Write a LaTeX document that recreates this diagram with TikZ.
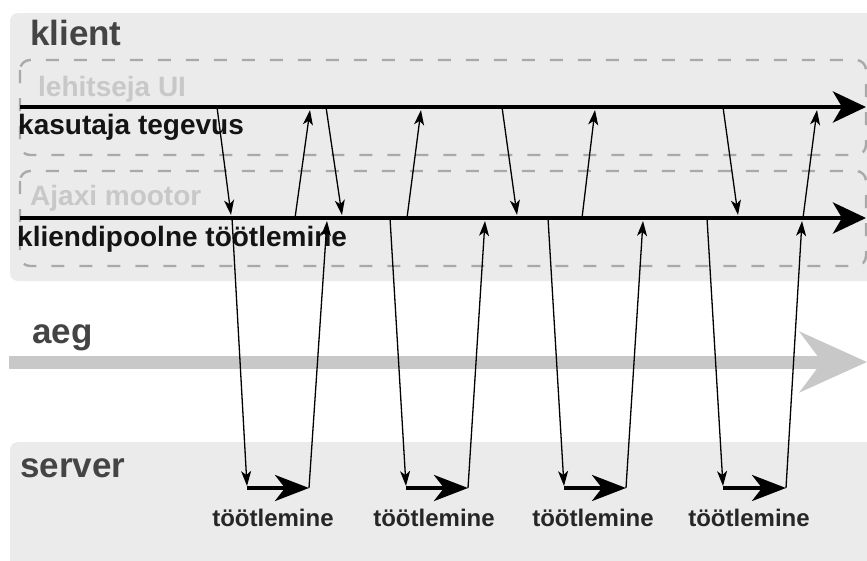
\documentclass[tikz,border=0pt]{standalone}
\usepackage{fontspec}
\setmainfont{Liberation Sans}
\usetikzlibrary{arrows.meta}

\definecolor{panel}{HTML}{EBEBEB}
\definecolor{dashgray}{HTML}{A9A9A9}
\definecolor{faint}{HTML}{C8C8C8}
\definecolor{head}{HTML}{444444}
\definecolor{timegray}{HTML}{C8C8C8}

\tikzset{
  panelbox/.style={fill=panel, draw=none, rounded corners=8pt},
  layerbox/.style={draw=dashgray, line width=2.4pt, dash pattern=on 13pt off 15pt, rounded corners=10pt},
  title/.style={inner sep=0pt, anchor=base west, text=head, font=\bfseries\fontsize{35}{40}\selectfont},
  layername/.style={inner sep=0pt, anchor=base west, text=faint, font=\bfseries\fontsize{28}{32}\selectfont},
  linename/.style={inner sep=0pt, anchor=base west, text=black!92, font=\bfseries\fontsize{28}{32}\selectfont},
  worklabel/.style={inner sep=0pt, anchor=base, text=black!85, font=\bfseries\fontsize{24}{28}\selectfont},
  timeline/.style={line width=4.5pt, -{Stealth[length=33pt, width=31pt, inset=9pt]}},
  workarrow/.style={line width=4pt, -{Stealth[length=34pt, width=26pt, inset=10pt]}},
  msg/.style={line width=1.3pt, -{Stealth[length=15pt, width=10pt, inset=4pt]}},
  timearrow/.style={draw=timegray, line width=13pt, -{Stealth[length=67pt, width=60pt, inset=22pt]}}
}

\begin{document}
\begin{tikzpicture}[x=1pt, y=-1pt]
\useasboundingbox (0,0) rectangle (867,560);
\clip (0,0) rectangle (867,560);

% client and server panels
\fill[panelbox] (10,13) rectangle (890,281);
\fill[panelbox] (10,442) rectangle (890,590);

% dashed layers inside the client
\draw[layerbox] (20,60) rectangle (866,155);
\draw[layerbox] (20,171) rectangle (866,266);

% panel and layer titles
\node[title] (klient) at (30,45) {klient};
\node[layername] (ui) at (38,96) {lehitseja UI};
\node[linename] (user) at (18,134) {kasutaja tegevus};
\node[layername] (ajax) at (30,205) {Ajaxi mootor};
\node[linename] (client) at (17,246) {kliendipoolne töötlemine};
\node[title] (aeg) at (32,343) {aeg};
\node[title] (server) at (20,477) {server};

% time axis
\coordinate (t0) at (9,362);
\coordinate (t1) at (867,362);
\draw[timearrow] (t0) -- (t1);

% client timelines
\coordinate (l1a) at (20,107);
\coordinate (l1b) at (866,107);
\coordinate (l2a) at (20,218);
\coordinate (l2b) at (866,218);
\draw[timeline] (l1a) -- (l1b);
\draw[timeline] (l2a) -- (l2b);

% server processing steps
\node[worklabel] (w1) at (273,526) {töötlemine};
\node[worklabel] (w2) at (434,526) {töötlemine};
\node[worklabel] (w3) at (593,526) {töötlemine};
\node[worklabel] (w4) at (749,526) {töötlemine};

\coordinate (s1a) at (247,488); \coordinate (s1b) at (309,488);
\coordinate (s2a) at (406,488); \coordinate (s2b) at (468,488);
\coordinate (s3a) at (564,488); \coordinate (s3b) at (626,488);
\coordinate (s4a) at (723,488); \coordinate (s4b) at (786,488);
\draw[workarrow] (s1a) -- (s1b);
\draw[workarrow] (s2a) -- (s2b);
\draw[workarrow] (s3a) -- (s3b);
\draw[workarrow] (s4a) -- (s4b);

% message end points
\coordinate (u1) at (217,107);  \coordinate (e1) at (231,215);
\coordinate (e2) at (232,218);  \coordinate (r1) at (247,486);
\coordinate (e3) at (327,221);
\coordinate (e4) at (295,218);  \coordinate (u2) at (310,110);
\coordinate (u3) at (326,107);  \coordinate (e5) at (342,215);

\coordinate (e6) at (390,218);  \coordinate (r2) at (406,486);
\coordinate (e7) at (485,221);
\coordinate (e8) at (407,218);  \coordinate (u4) at (421,110);
\coordinate (u5) at (502,107);  \coordinate (e9) at (517,215);
\coordinate (e10) at (582,218); \coordinate (u6) at (595,110);

\coordinate (e11) at (548,218); \coordinate (r3) at (564,486);
\coordinate (e12) at (643,221);
\coordinate (u7) at (723,107);  \coordinate (e13) at (738,215);

\coordinate (e14) at (707,218); \coordinate (r4) at (723,486);
\coordinate (e15) at (802,221);
\coordinate (e16) at (803,218); \coordinate (u8) at (817,110);

% first exchange
\draw[msg] (u1) -- (e1);
\draw[msg] (e2) -- (r1);
\draw[msg] (s1b) -- (e3);
\draw[msg] (e4) -- (u2);
\draw[msg] (u3) -- (e5);

% second exchange
\draw[msg] (e6) -- (r2);
\draw[msg] (s2b) -- (e7);
\draw[msg] (e8) -- (u4);
\draw[msg] (u5) -- (e9);
\draw[msg] (e10) -- (u6);

% third exchange
\draw[msg] (e11) -- (r3);
\draw[msg] (s3b) -- (e12);
\draw[msg] (u7) -- (e13);

% fourth exchange
\draw[msg] (e14) -- (r4);
\draw[msg] (s4b) -- (e15);
\draw[msg] (e16) -- (u8);
\end{tikzpicture}
\end{document}
